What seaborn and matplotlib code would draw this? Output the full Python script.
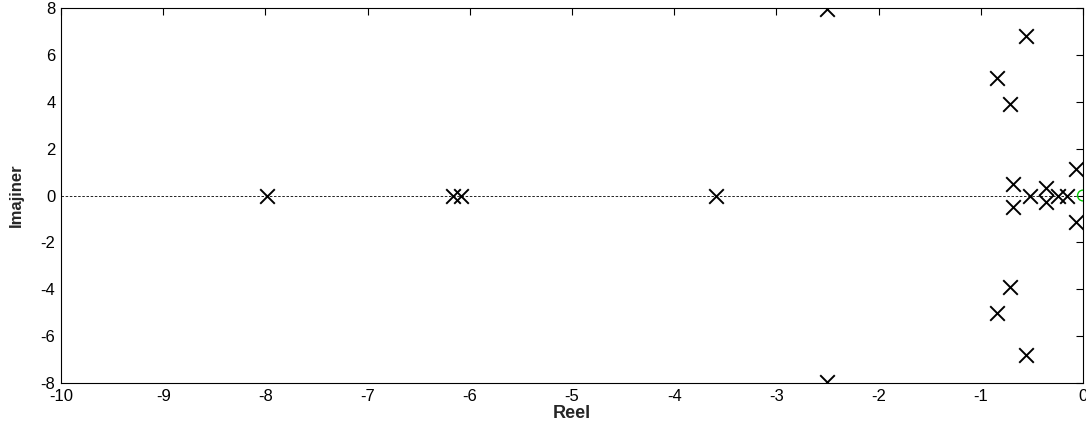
import numpy as np
import pandas as pd
import seaborn as sns
import matplotlib
matplotlib.use("Agg")
import matplotlib.pyplot as plt

pole_real = [-7.98, -6.16, -6.09, -3.59, -2.50, -2.50,
             -0.56, -0.56, -0.84, -0.84, -0.71, -0.71,
             -0.68, -0.68, -0.52, -0.36, -0.36, -0.24, -0.16,
             -0.07, -0.07]
pole_imag = [0.0, 0.0, 0.0, 0.0, 7.95, -7.95,
             6.80, -6.80, 5.00, -5.00, 3.89, -3.89,
             0.50, -0.50, 0.0, 0.30, -0.28, 0.0, 0.0,
             1.12, -1.12]
zero_real = [0.0]
zero_imag = [0.0]

poles = pd.DataFrame({"Reel": pole_real, "Imajiner": pole_imag})
zeros = pd.DataFrame({"Reel": zero_real, "Imajiner": zero_imag})

sns.set_style("white")
plt.rcParams["font.family"] = ["Liberation Sans", "DejaVu Sans"]
plt.rcParams["axes.unicode_minus"] = False

fig = plt.figure(figsize=(10.86, 4.26), dpi=100)
ax = fig.add_axes([0.0562, 0.1009, 0.941, 0.8803])

# zero line
ax.axhline(0, color="black", linestyle="--", linewidth=0.6, dashes=(3, 2), zorder=1)

sns.scatterplot(data=poles, x="Reel", y="Imajiner", marker="x", s=110,
                color="black", linewidth=1.4, ax=ax, zorder=3)
ax.scatter(zeros["Reel"], zeros["Imajiner"], marker="o", s=60,
           facecolors="none", edgecolors="#00cc00", linewidths=1.0, zorder=3)

ax.set_xlim(-10, 0)
ax.set_ylim(-8, 8)
ax.set_xticks(np.arange(-10, 1, 1))
ax.set_yticks(np.arange(-8, 9, 2))
ax.tick_params(direction="in", top=True, right=True, length=5, width=0.8,
               labelsize=12, colors="black")
ax.tick_params(axis="x", pad=4)
ax.tick_params(axis="y", pad=4)
for s in ax.spines.values():
    s.set_color("black")
    s.set_linewidth(0.8)

ax.set_xlabel("Reel", fontsize=13, fontweight="bold", labelpad=1)
ax.set_ylabel("Imajiner", fontsize=12, fontweight="bold", labelpad=12)

fig.savefig("out.png", dpi=100)
